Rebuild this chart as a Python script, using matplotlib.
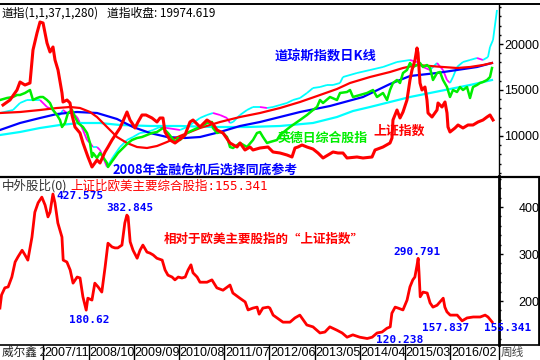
import numpy as np
import matplotlib.pyplot as plt
from matplotlib.collections import LineCollection
from matplotlib.lines import Line2D
from matplotlib.ticker import MultipleLocator

plt.rcParams['font.family'] = ['Noto Sans CJK SC', 'DejaVu Sans']

# time axis: months counted from 2006/12 (1 = 2007/01), weekly chart
date_labels = ['2007/11', '2008/10', '2009/09', '2010/08', '2011/07',
               '2012/06', '2013/05', '2014/04', '2015/03', '2016/02']
date_months = [11, 22, 33, 44, 55, 66, 77, 88, 99, 110]

# Shanghai composite, drawn on the Dow scale (red thick)
sh_m = [1.15, 2.85, 4.56, 5.29, 6.5, 7.72, 8.45, 9.43, 10.16, 10.9, 11.86, 12.59, 13.32, 13.81,
        14.54, 15.51, 15.75, 16.73, 17.46, 17.94, 18.67, 19.89, 20.62, 21.84, 22.81, 24.03,
        24.76, 25.98, 26.71, 27.68, 29.63, 31.33, 32.06, 32.55, 33.28, 34.01, 34.98, 35.96,
        37.42, 38.63, 39.36, 40.09, 40.58, 41.8, 43.02, 44.96, 45.45, 46.66, 47.4, 49.1, 50.8,
        52.26, 53.24, 54.7, 56.4, 58.11, 58.84, 60.05, 61.27, 62.0, 63.7, 65.65, 66.87, 68.57,
        70.27, 71.49, 72.22, 72.95, 73.93, 75.14, 76.6, 77.82, 79.04, 80.26, 81.47, 82.69,
        83.9, 84.88, 87.31, 88.77, 90.97, 91.7, 93.64, 95.35, 95.83, 96.07, 97.05, 97.78,
        98.51, 99.48, 100.21, 100.7, 101.43, 101.92, 102.16, 102.65, 103.13, 103.86, 104.35,
        104.6, 105.57, 106.79, 107.03, 108.0, 108.73, 109.22, 109.46, 109.95, 111.17, 111.9,
        113.11, 114.33, 115.55, 116.77, 117.98, 118.96, 119.69, 120.42]
sh_v = [13370, 13913, 15000, 15870, 15543, 15761, 19348, 21196, 22391, 22283, 20109, 19130,
        19674, 18261, 17174, 14674, 13696, 13913, 13587, 12283, 10978, 10326, 9239, 7717,
        6630, 7391, 7065, 8261, 8804, 9565, 10870, 12609, 11739, 11413, 10870, 11522, 12283,
        12283, 11957, 11522, 11957, 11957, 10435, 9565, 9239, 9891, 10109, 11522, 11739,
        10978, 11739, 11304, 10652, 10326, 9239, 8804, 9239, 8478, 8804, 8478, 8696, 8804,
        8261, 8152, 7935, 7717, 8696, 8804, 9022, 8804, 8587, 8152, 7609, 7935, 8261, 8152,
        8152, 7609, 7717, 7609, 7717, 8478, 8804, 9239, 9783, 11739, 12826, 11957, 12609,
        13913, 16087, 17174, 18261, 19565, 19022, 15761, 15000, 15326, 13913, 12500, 12065,
        12826, 13587, 13152, 13696, 12500, 10978, 10435, 10870, 11196, 10870, 11196, 11196,
        11522, 11739, 12065, 12283, 11739]

# Dow daily K-line (cyan up / magenta down)
dow_m = [0.42, 3.58, 5.29, 6.99, 8.45, 10.16, 11.86, 13.32, 14.29, 15.02, 15.75, 16.73, 17.94,
         19.16, 19.89, 20.62, 21.6, 22.33, 23.06, 24.03, 24.76, 25.49, 26.46, 27.92, 29.63,
         31.33, 32.79, 34.5, 36.2, 37.66, 39.36, 41.07, 44.23, 45.94, 47.4, 49.1, 50.8, 52.26,
         53.97, 55.67, 56.4, 57.13, 58.84, 60.54, 62.0, 63.7, 65.41, 66.87, 68.57, 70.27,
         71.74, 73.44, 75.14, 76.6, 78.31, 80.01, 81.47, 83.17, 83.9, 87.31, 90.48, 93.64,
         97.05, 100.21, 101.92, 103.38, 105.08, 106.79, 108.25, 109.22, 109.95, 110.68,
         111.65, 113.11, 114.82, 116.52, 117.98, 119.2, 119.69, 120.42, 121.39]
dow_v = [12500, 12826, 13587, 13913, 13913, 13913, 13152, 12826, 12283, 12283, 12826, 12500,
         12500, 12065, 11413, 10652, 9565, 9239, 8804, 8804, 8478, 7717, 6630, 7717, 8804,
         9565, 9891, 10326, 10435, 10652, 10978, 10870, 10652, 10978, 11413, 11957, 12283,
         12500, 12283, 11957, 11413, 11522, 12283, 12826, 13152, 13152, 13043, 13152, 13370,
         13587, 13913, 14130, 14674, 15217, 15326, 15543, 15543, 15761, 16413, 16848, 17174,
         17500, 18043, 18261, 18043, 17500, 17174, 17935, 17174, 16087, 15761, 16413, 17500,
         18043, 18261, 18478, 18261, 18587, 19674, 20435, 23696]

# UK / Germany / Japan composite (green)
eu_m = [0.42, 2.12, 3.58, 4.56, 5.29, 6.5, 7.72, 8.45, 9.43, 10.16, 10.9, 11.86, 12.59, 13.32,
        14.29, 15.02, 15.51, 16.24, 16.97, 17.94, 18.67, 19.41, 20.62, 21.6, 22.33, 22.81,
        23.06, 24.03, 24.76, 25.49, 26.46, 26.71, 27.92, 29.14, 30.36, 31.58, 32.55, 33.77,
        34.98, 36.2, 37.42, 38.63, 39.36, 40.09, 41.31, 42.28, 43.02, 43.75, 44.23, 45.94,
        47.4, 49.1, 50.8, 52.02, 52.26, 53.24, 53.97, 54.7, 55.67, 56.4, 57.13, 58.84, 60.54,
        62.0, 62.97, 63.7, 64.43, 65.41, 66.14, 67.84, 68.57, 71.0, 73.44, 75.14, 76.6,
        77.58, 78.31, 79.04, 80.74, 82.44, 83.18, 84.88, 85.61, 86.34, 88.04, 89.75, 91.21,
        92.18, 93.64, 94.62, 95.35, 96.07, 97.05, 97.78, 98.51, 99.48, 100.21, 100.94,
        101.92, 102.65, 103.38, 104.35, 105.08, 105.81, 106.79, 107.52, 108.25, 109.22,
        109.95, 110.68, 111.65, 112.38, 113.11, 114.09, 114.82, 115.55, 116.52, 117.25,
        117.98, 118.96, 119.69, 120.17]
eu_v = [13913, 14130, 14239, 14457, 14457, 14674, 15000, 13913, 14130, 14239, 14239, 13913,
        13587, 12826, 12283, 11739, 10978, 11413, 12500, 12826, 12065, 11413, 10978, 10326,
        9239, 7717, 8152, 7609, 8152, 7717, 7065, 6630, 7391, 8152, 8696, 9239, 9565, 9783,
        9891, 10109, 10326, 10435, 10652, 10870, 10326, 9783, 9348, 9783, 9565, 10326, 10652,
        10978, 11413, 11522, 10870, 10326, 10435, 10326, 9891, 8804, 8696, 9239, 8804, 9565,
        10326, 10435, 9891, 9239, 9348, 9565, 10109, 10978, 11739, 12283, 12826, 13152,
        13913, 13587, 14239, 13913, 14674, 14783, 15000, 14239, 14457, 14674, 15000, 14239,
        14674, 13913, 15000, 15761, 16087, 15761, 16848, 17174, 17935, 17500, 17717, 17935,
        17500, 17717, 17391, 16087, 16848, 16957, 16087, 15326, 14239, 15000, 14783, 15326,
        15000, 15326, 14130, 15326, 15543, 15761, 15870, 16087, 16413, 17391]

# moving averages of the Dow (red, blue, cyan)
ma_red_m = [0.42, 5.29, 10.16, 14.29, 17.46, 19.89, 22.33, 24.03, 26.46, 28.9, 31.33, 33.77,
            36.2, 38.63, 41.07, 44.23, 49.1, 53.97, 58.84, 63.7, 68.57, 73.44, 78.31, 82.44,
            85.61, 90.48, 95.35, 98.51, 101.92, 105.08, 108.25, 111.65, 114.82, 117.98, 120.17]
ma_red_v = [12500, 12609, 12826, 13043, 13152, 13043, 12609, 12065, 10978, 9891, 9239, 8804,
            8696, 8913, 9348, 10000, 10870, 11522, 12065, 12500, 13043, 13696, 14457, 15109,
            15761, 16413, 16957, 17391, 17717, 17609, 17500, 17391, 17500, 17717, 17935]
ma_blue_m = [0.42, 5.29, 10.16, 14.29, 19.16, 24.03, 28.9, 32.79, 36.93, 41.07, 45.45, 49.1,
             53.97, 58.84, 63.7, 68.57, 73.44, 80.74, 88.77, 95.35, 100.21, 106.79, 111.65,
             116.52, 120.17]
ma_blue_v = [10652, 11413, 11957, 12391, 12609, 12500, 11848, 10978, 10326, 9891, 9783, 9891,
             10435, 11087, 11522, 12065, 12609, 13261, 14239, 15652, 16522, 16848, 17174,
             17500, 17935]
ma_cyan_m = [0.42, 5.29, 10.16, 15.02, 19.89, 24.76, 29.63, 36.93, 44.23, 52.26, 60.54, 68.57,
             76.6, 82.44, 86.34, 90.48, 95.35, 100.21, 105.08, 109.95, 114.82, 120.17]
ma_cyan_v = [10108, 10435, 10870, 11196, 11413, 11413, 11196, 11087, 11087, 10978, 10978,
             11087, 11413, 12065, 12717, 13152, 13696, 14239, 14674, 15109, 15543, 16087]

# Shanghai relative to the US/EU composite (bottom panel)
ratio_m = [0.4, 0.8, 1.6, 2.4, 3.3, 4.1, 4.8, 5.8, 6.5, 7.2, 8.2, 8.9, 9.7, 10.6, 11.4, 12.1,
           12.6, 13.3, 13.8, 14.5, 15.5, 15.8, 16.7, 17.5, 18.2, 19.2, 19.9, 20.6, 21.4, 21.8,
           22.8, 23.5, 24.3, 25.2, 26.0, 26.7, 27.7, 28.4, 29.1, 30.1, 30.8, 31.3, 31.6, 32.1,
           32.8, 33.8, 34.5, 35.2, 36.2, 36.9, 37.7, 38.6, 39.9, 40.6, 41.3, 42.3, 43.0, 43.8,
           44.7, 45.5, 46.2, 46.9, 47.4, 48.4, 49.1, 50.8, 52.0, 53.2, 54.7, 56.4, 57.1, 58.8,
           60.1, 60.8, 62.0, 63.0, 63.5, 64.4, 65.7, 66.1, 66.9, 69.3, 71.0, 72.2, 73.4, 75.1,
           76.6, 78.3, 79.5, 80.7, 82.4, 83.7, 84.9, 86.3, 88.0, 89.8, 91.0, 92.2, 93.4, 94.6,
           95.4, 95.8, 96.6, 97.3, 98.5, 99.5, 100.2, 100.9, 101.4, 101.9, 102.2, 102.4, 102.7,
           103.4, 104.4, 105.1, 105.8, 106.8, 107.5, 108.3, 108.7, 109.2, 110.0, 111.7, 112.9,
           114.1, 115.6, 117.3, 118.5, 119.2, 120.2]
ratio_v = [185, 213, 228, 230, 251, 283, 294, 308, 298, 287, 336, 389, 409, 421, 404, 379, 389,
           427.6, 409, 366, 336, 287, 283, 266, 238, 251, 249, 209, 180.6, 206, 202, 238, 230,
           219, 272, 323, 315, 313, 313, 319, 366, 382.8, 379, 326, 308, 291, 308, 319, 304,
           302, 298, 291, 287, 266, 255, 251, 245, 251, 249, 251, 266, 277, 260, 251, 240, 240,
           245, 228, 223, 234, 217, 206, 198, 181, 185, 187, 172, 185, 187, 185, 170, 155, 155,
           164, 170, 149, 145, 132, 134, 145, 138, 132, 123, 128, 123, 120.2, 123, 132, 134,
           142, 145, 174, 187, 185, 181, 202, 230, 245, 251, 275, 290.8, 262, 209, 219, 217,
           196, 187, 191, 198, 206, 187, 177, 170, 170, 157.8, 164, 166, 166, 170, 166, 155.3]

W, H = 540, 360
RED, BLUE, GREEN, CYAN, MAG = '#ff0000', '#0000ff', '#00ee00', '#00ffff', '#ff00ff'
XLIM = (0.42, 0.42 + 0.2434 * 499)


def fx(px):
    return px / W


def fy(py):
    return 1 - py / H


def fig_line(x0, y0, x1, y1, lw=1.0, color='black'):
    fig.add_artist(Line2D([fx(x0), fx(x1)], [fy(y0), fy(y1)], lw=lw, color=color,
                          transform=fig.transFigure, solid_capstyle='butt'))


fig = plt.figure(figsize=(5.4, 3.6), dpi=100)
fig.patch.set_facecolor('white')

# ---- top panel ----
ax1 = fig.add_axes([0, fy(176), fx(499), (176 - 4) / H])
ax1.set_xlim(*XLIM)
ax1.set_ylim(5652, 24348)

pts = np.column_stack([dow_m, dow_v])
segs = np.stack([pts[:-1], pts[1:]], axis=1)
cols = [CYAN if b >= a else MAG for a, b in zip(dow_v[:-1], dow_v[1:])]
ax1.add_collection(LineCollection(segs, colors=cols, linewidths=1.3, zorder=2))

ax1.plot(ma_cyan_m, ma_cyan_v, color=CYAN, lw=1.6, zorder=3)
ax1.plot(ma_blue_m, ma_blue_v, color=BLUE, lw=1.6, zorder=3)
ax1.plot(ma_red_m, ma_red_v, color=RED, lw=1.6, zorder=3)
ax1.plot(eu_m, eu_v, color=GREEN, lw=1.8, zorder=4)
ax1.plot(sh_m, sh_v, color=RED, lw=2.2, zorder=5)

ax1.text(67.4, 18600, '道琼斯指数日K线', color=BLUE, fontsize=9.5, fontweight='bold', va='center')
ax1.text(68.1, 9850, '英德日综合股指', color=GREEN, fontsize=9.3, fontweight='bold', va='center')
ax1.text(91.2, 10550, '上证指数', color=RED, fontsize=9.3, fontweight='bold', va='center')
ax1.text(27.9, 6300, '2008年金融危机后选择同底参考', color=BLUE, fontsize=9.3,
         fontweight='bold', va='center', zorder=6)

# ---- bottom panel ----
ax2 = fig.add_axes([0, fy(345), fx(499), (345 - 176) / H])
ax2.set_xlim(*XLIM)
ax2.set_ylim(106.4, 466)
ax2.plot(ratio_m, ratio_v, color=RED, lw=2.0, zorder=3)

mono = dict(family='DejaVu Sans Mono', fontweight='bold', color=BLUE, fontsize=8,
            va='center', clip_on=False, zorder=10)
ax2.text(14.05, 423.4, '427.575', **mono)
ax2.text(26.2, 397.9, '382.845', **mono)
ax2.text(17.2, 159.5, '180.62', **mono)
ax2.text(96.1, 304.2, '290.791', **mono)
ax2.text(91.9, 117.0, '120.238', **mono)
ax2.text(103.1, 142.5, '157.837', **mono)
ax2.text(118.2, 142.5, '155.341', **mono)
ax2.text(40.3, 330.5, '相对于欧美主要股指的“上证指数”', color=RED, fontsize=9,
         fontweight='bold', va='center')

tick_font = dict(family='Liberation Sans', size=9)
for ax, major, minor in [(ax1, 5000, 1000), (ax2, 100, 20)]:
    for s in ['left', 'top', 'bottom']:
        ax.spines[s].set_visible(False)
    ax.spines['right'].set_linewidth(1.0 if ax is ax1 else 2.0)
    ax.set_xticks([])
    ax.yaxis.tick_right()
    ax.yaxis.set_major_locator(MultipleLocator(major))
    ax.yaxis.set_minor_locator(MultipleLocator(minor))
    ax.tick_params(axis='y', which='major', direction='out', length=3, width=1, pad=26)
    ax.tick_params(axis='y', which='minor', direction='out', length=1.5, width=1)
    for lab in ax.get_yticklabels():
        lab.set_fontproperties(tick_font)
        lab.set_horizontalalignment('right')
    ax.set_facecolor('none')

# ---- date row ----
ax3 = fig.add_axes([0, 0, fx(499), 15 / H])
ax3.set_xlim(*XLIM)
ax3.set_ylim(0, 1)
ax3.axis('off')
for m, lab in zip(date_months, date_labels):
    ax3.axvline(m, color='black', lw=1)
    ax3.text(m + 0.15, 0.45, lab, fontfamily='Liberation Sans', fontsize=9, va='center', ha='left')

# ---- frame lines and header texts ----
fig_line(0, 4, 540, 4, lw=1.4)
fig_line(0, 176.5, 540, 176.5, lw=1.6)
fig_line(0, 345, 540, 345, lw=1.2)
fig_line(539, 176, 539, 345, lw=2.0)
fig_line(499, 345, 499, 360, lw=1.0)

fig.text(fx(2), fy(13), '道指(1,1,37,1,280)', fontsize=8.5, va='center')
fig.text(fx(107), fy(13), '道指收盘: 19974.619', fontsize=8.5, va='center')
fig.text(fx(2), fy(186), '中外股比(0)', fontsize=9, color='#333333', va='center')
fig.text(fx(70), fy(186), '上证比欧美主要综合股指:155.341', fontsize=9, color=RED, va='center',
         family=['DejaVu Sans Mono', 'Noto Sans CJK SC'])
fig.text(fx(2), fy(352), '威尔鑫 2', fontsize=8.4, color='#222222', va='center')
fig.text(fx(501), fy(352), '周线', fontsize=8.4, color='#444444', va='center')

fig.savefig('out.png', dpi=100)
